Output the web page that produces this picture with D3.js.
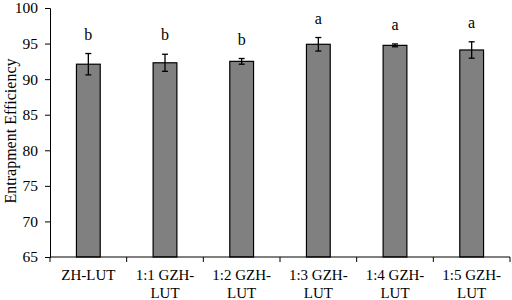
<!DOCTYPE html>
<html lang="en">
<head>
    <meta charset="utf-8">
    <title>Entrapment Efficiency</title>
    <script src="https://d3js.org/d3.v7.min.js"></script>
    <style>
        body { margin: 0; background: #fff; }
        text { font-family: "Liberation Serif", "Times New Roman", serif; fill: #000; }
    </style>
</head>
<body>
<div id="chart"></div>
<script>
    // Data
    const categories = ["ZH-LUT", "1:1 GZH-LUT", "1:2 GZH-LUT", "1:3 GZH-LUT", "1:4 GZH-LUT", "1:5 GZH-LUT"];
    const values = [92.1, 92.3, 92.5, 94.9, 94.75, 94.1];
    const errors = [1.5, 1.2, 0.4, 0.95, 0.2, 1.15];
    const letters = ["b", "b", "b", "a", "a", "a"];
    const yTicks = [65, 70, 75, 80, 85, 90, 95, 100];

    const W = 512, H = 300;
    const margin = {top: 8, right: 2, bottom: 43, left: 50};
    const width = W - margin.left - margin.right,
        height = H - margin.top - margin.bottom;

    const svg = d3.select("#chart")
        .append("svg")
        .attr("width", W)
        .attr("height", H);

    const g = svg.append("g")
        .attr("transform", `translate(${margin.left},${margin.top})`);

    const x = d3.scaleBand()
        .domain(categories)
        .range([0, width])
        .padding(0);

    const y = d3.scaleLinear()
        .domain([65, 100])
        .range([height, 0]);

    const barW = x.bandwidth() * 0.31;

    // Bars
    g.selectAll(".bar")
        .data(categories)
        .join("rect")
        .attr("class", "bar")
        .attr("x", d => x(d) + (x.bandwidth() - barW) / 2)
        .attr("y", (d, i) => y(values[i]))
        .attr("width", barW)
        .attr("height", (d, i) => y(65) - y(values[i]))
        .attr("fill", "#808080")
        .attr("stroke", "#000")
        .attr("stroke-width", 1.2);

    // Error bars
    const cx = d => x(d) + x.bandwidth() / 2;
    const err = g.append("g")
        .attr("stroke", "#000")
        .attr("stroke-width", 1.3);
    categories.forEach((d, i) => {
        const top = y(values[i] + errors[i]), bot = y(values[i] - errors[i]);
        err.append("line").attr("x1", cx(d)).attr("x2", cx(d)).attr("y1", top).attr("y2", bot);
        err.append("line").attr("x1", cx(d) - 3).attr("x2", cx(d) + 3).attr("y1", top).attr("y2", top);
        err.append("line").attr("x1", cx(d) - 3).attr("x2", cx(d) + 3).attr("y1", bot).attr("y2", bot);
    });

    // Significance letters
    g.selectAll(".sig")
        .data(categories)
        .join("text")
        .attr("class", "sig")
        .attr("x", d => cx(d))
        .attr("y", (d, i) => y(values[i] + errors[i]) - 14)
        .attr("text-anchor", "middle")
        .style("font-size", "16px")
        .text((d, i) => letters[i]);

    // Y axis
    const yAxis = g.append("g")
        .call(d3.axisLeft(y).tickValues(yTicks).tickSize(5).tickPadding(7).tickFormat(d3.format("d")));
    yAxis.selectAll("text").style("font-size", "15.5px");
    yAxis.select(".domain").attr("stroke", "#000");

    // X axis: ticks at band boundaries
    const xAxis = g.append("g")
        .attr("transform", `translate(0,${height})`);
    xAxis.append("line")
        .attr("x1", 0).attr("x2", width)
        .attr("stroke", "#000");
    xAxis.selectAll(".xt")
        .data(d3.range(categories.length + 1))
        .join("line")
        .attr("class", "xt")
        .attr("x1", i => i * x.bandwidth())
        .attr("x2", i => i * x.bandwidth())
        .attr("y1", 0).attr("y2", 5)
        .attr("stroke", "#000");

    // Wrapped category labels
    xAxis.selectAll(".xl")
        .data(categories)
        .join("text")
        .attr("class", "xl")
        .attr("text-anchor", "middle")
        .style("font-size", "15px")
        .each(function (d) {
            const parts = d.includes(" GZH-") ? [d.replace("LUT", ""), "LUT"] : [d];
            const t = d3.select(this);
            parts.forEach((p, k) => {
                t.append("tspan")
                    .attr("x", cx(d))
                    .attr("y", 23 + k * 18)
                    .text(p);
            });
        });

    // Y axis title
    svg.append("text")
        .attr("transform", "translate(16,131) rotate(-90)")
        .attr("text-anchor", "middle")
        .style("font-size", "16px")
        .text("Entrapment Efficiency");
</script>
</body>
</html>
